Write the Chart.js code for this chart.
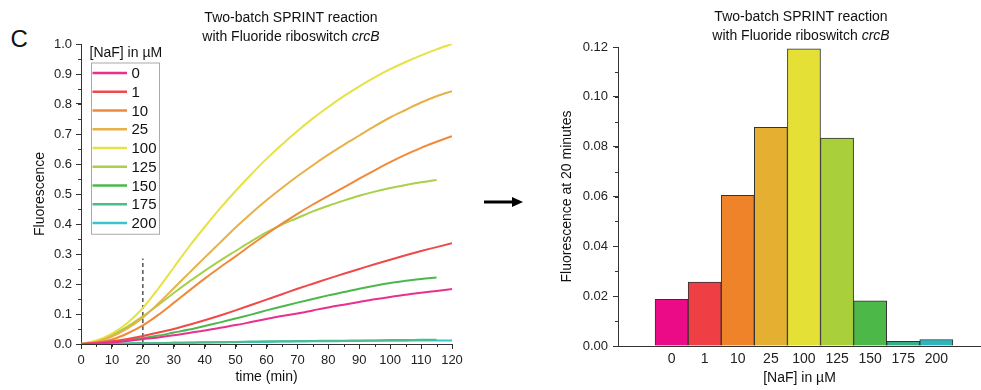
<!DOCTYPE html>
<html>
<head>
<meta charset="utf-8">
<script src="https://cdn.jsdelivr.net/npm/chart.js@4"></script>
<style>
  body { margin: 0; background: #fff; overflow: hidden; }
  #wrap { position: relative; width: 981px; height: 390px; font-family: 'Liberation Sans', Arial, sans-serif; color: #111; }
  canvas { position: absolute; top: 0; }
  .title { position: absolute; width: 320px; text-align: center; font-size: 14px; line-height: 19px; }
  #panel { position: absolute; left: 10.5px; top: 27px; font-size: 24px; line-height: 24px; }
</style>
</head>
<body>
<div id="wrap">
  <div id="panel">C</div>
  <canvas id="curves" width="470" height="390" style="left:0"></canvas>
  <canvas id="bars" width="426" height="390" style="left:555px"></canvas>
  <div class="title" style="left:131px; top:7.5px">Two-batch SPRINT reaction<br>with Fluoride riboswitch <i>crcB</i></div>
  <div class="title" style="left:641px; top:7px">Two-batch SPRINT reaction<br>with Fluoride riboswitch <i>crcB</i></div>
  <svg style="position:absolute; left:480px; top:195px" width="46" height="15">
    <line x1="4" y1="7" x2="34" y2="7" stroke="#000" stroke-width="3"/>
    <polygon points="32,2 43,7 32,12" fill="#000"/>
  </svg>
</div>
<script>
// kinetics, sampled every 5 min
const times = [0, 5, 10, 15, 20, 25, 30, 35, 40, 45, 50, 55, 60, 65, 70, 75, 80, 85, 90, 95, 100, 105, 110, 115, 120];
const naf0   = [0, .002, .005, .01, .016, .022, .029, .037, .045, .054, .063, .073, .083, .093, .102, .112, .122, .131, .14, .149, .157, .164, .171, .177, .183];
const naf1   = [0, .003, .009, .017, .027, .038, .05, .064, .079, .095, .112, .13, .148, .166, .184, .201, .218, .234, .25, .266, .281, .296, .31, .323, .336];
const naf10  = [0, .005, .015, .035, .062, .097, .137, .178, .218, .256, .292, .33, .366, .401, .434, .465, .494, .522, .551, .579, .606, .631, .654, .674, .693];
const naf25  = [0, .008, .025, .052, .088, .135, .186, .237, .288, .338, .388, .435, .479, .52, .559, .596, .631, .664, .695, .726, .755, .78, .805, .826, .843];
const naf100 = [0, .012, .035, .07, .12, .185, .255, .325, .39, .452, .51, .565, .617, .665, .71, .752, .79, .826, .859, .889, .916, .94, .962, .982, 1.0];
const naf125 = [0, .01, .03, .058, .092, .13, .17, .208, .244, .278, .31, .342, .372, .398, .42, .442, .461, .478, .494, .508, .52, .53, .539, .547];
const naf150 = [0, .002, .006, .012, .02, .028, .038, .048, .06, .072, .085, .098, .112, .125, .138, .15, .162, .173, .184, .194, .203, .211, .217, .222];
const naf175 = [0, .001, .001, .002, .003, .003, .004, .005, .006, .006, .007, .008, .009, .009, .01, .01, .011, .011, .012, .012, .013, .013, .014, .014];
const naf200 = [0, .001, .001, .002, .002, .003, .004, .004, .005, .006, .006, .007, .007, .008, .008, .009, .009, .01, .01, .011, .011, .011, .012, .012, .012];

const categories = ['0', '1', '10', '25', '100', '125', '150', '175', '200'];
const seriesValues = [naf0, naf1, naf10, naf25, naf100, naf125, naf150, naf175, naf200];
const lineColors = ['#e8308e', '#ee4a4a', '#f08a3a', '#e8b046', '#e6e244', '#a8d048', '#4cb84c', '#4cbc8c', '#3cc4cc'];

// fluorescence at 20 minutes
const barValues = [0.0187, 0.0257, 0.0605, 0.0878, 0.1193, 0.0834, 0.0181, 0.0019, 0.0026];
const barColors = ['#ec0b86', '#ef3f44', '#ef8329', '#e5b031', '#e4e036', '#a9cf3b', '#4cb848', '#38ae86', '#2bb5bd'];

const markerTime = 20;
const markerTop = 0.285;

const FONT = "'Liberation Sans', Arial, sans-serif";

// small unlabeled ticks between the major ones
const minorTicks = {
    id: 'minorTicks',
    afterDraw(chart, args, opts) {
        const ctx = chart.ctx;
        ctx.save();
        ctx.strokeStyle = '#333';
        ctx.lineWidth = 1;
        for (const [id, step] of Object.entries(opts.steps || {})) {
            const s = chart.scales[id];
            const n = Math.round((s.max - s.min) / step);
            for (let k = 0; k <= n; k++) {
                const p = Math.round(s.getPixelForValue(s.min + k * step)) + 0.5;
                ctx.beginPath();
                if (s.isHorizontal()) {
                    ctx.moveTo(p, s.top);
                    ctx.lineTo(p, s.top + 3);
                } else {
                    ctx.moveTo(s.right, p);
                    ctx.lineTo(s.right - 3, p);
                }
                ctx.stroke();
            }
        }
        ctx.restore();
    }
};

// legend in a box with the title sitting above it
const boxedLegend = {
    id: 'boxedLegend',
    afterDatasetsDraw(chart, args, opts) {
        if (!opts.title) return;
        const { ctx, chartArea } = chart;
        const items = chart.data.datasets.filter(d => d.label);
        const x0 = chartArea.left + 10, y0 = chartArea.top + 18.5;
        const rowH = 18.75;
        const w = 68, h = items.length * rowH + 2.5;
        ctx.save();
        ctx.fillStyle = '#fff';
        ctx.fillRect(x0, y0, w, h);
        ctx.strokeStyle = '#aaa';
        ctx.lineWidth = 1;
        ctx.strokeRect(x0 + 0.5, y0 + 0.5, w, h);
        ctx.fillStyle = '#111';
        ctx.textBaseline = 'middle';
        ctx.font = '14px ' + FONT;
        ctx.fillText(opts.title, x0 - 1.5, y0 - 9);
        ctx.font = '15px ' + FONT;
        items.forEach((d, i) => {
            const cy = y0 + 1.2 + rowH * (i + 0.5);
            ctx.strokeStyle = d.borderColor;
            ctx.lineWidth = 2.5;
            ctx.beginPath();
            ctx.moveTo(x0 + 1.5, cy);
            ctx.lineTo(x0 + 36, cy);
            ctx.stroke();
            ctx.fillText(d.label, x0 + 40.5, cy + 1);
        });
        ctx.restore();
    }
};

const lineSets = categories.map((c, i) => ({
    label: c,
    data: seriesValues[i].map((v, j) => ({ x: times[j], y: v })),
    borderColor: lineColors[i],
    borderWidth: 2,
    pointRadius: 0,
    cubicInterpolationMode: 'monotone'
}));
lineSets.push({
    data: [{ x: markerTime, y: 0 }, { x: markerTime, y: markerTop }],
    borderColor: '#555',
    borderWidth: 1.5,
    borderDash: [4, 3],
    pointRadius: 0
});

const axisGrid = { drawOnChartArea: false, drawTicks: true, tickLength: 5, color: '#333' };
const axisBorder = { display: true, color: '#333', width: 1 };

new Chart(document.getElementById('curves'), {
    type: 'line',
    data: { datasets: lineSets },
    options: {
        responsive: false,
        animation: false,
        devicePixelRatio: 1,
        layout: { padding: { top: 44, right: 18, bottom: 0, left: 0 } },
        plugins: {
            legend: { display: false },
            title: { display: false },
            tooltip: { enabled: false },
            minorTicks: { steps: { x: 5, y: 0.05 } },
            boxedLegend: { title: '[NaF] in µM' }
        },
        scales: {
            x: {
                type: 'linear', min: 0, max: 120,
                grid: axisGrid, border: axisBorder,
                ticks: { stepSize: 10, autoSkip: false, maxRotation: 0, padding: 4, color: '#222', font: { family: FONT, size: 13 } },
                title: { display: true, text: 'time (min)', color: '#111', font: { family: FONT, size: 14 }, padding: { top: 0, bottom: 4.6 } },
                afterFit: s => { s.height = 46; }
            },
            y: {
                min: 0, max: 1,
                grid: axisGrid, border: axisBorder,
                ticks: { stepSize: 0.1, padding: 4, color: '#222', font: { family: FONT, size: 13 }, callback: v => v.toFixed(1) },
                title: { display: true, text: 'Fluorescence', color: '#111', font: { family: FONT, size: 14 }, padding: { top: 31.6, bottom: 0 } },
                afterFit: s => { s.width = 81; }
            }
        }
    },
    plugins: [minorTicks, boxedLegend]
});

new Chart(document.getElementById('bars'), {
    type: 'bar',
    data: {
        datasets: [{
            data: categories.map((c, i) => ({ x: i, y: barValues[i] })),
            backgroundColor: barColors,
            borderColor: '#333',
            borderWidth: 1,
            barPercentage: 1,
            categoryPercentage: 1
        }]
    },
    options: {
        responsive: false,
        animation: false,
        devicePixelRatio: 1,
        layout: { padding: { top: 47, right: 0, bottom: 0, left: 0 } },
        plugins: {
            legend: { display: false },
            title: { display: false },
            tooltip: { enabled: false },
            minorTicks: { steps: { y: 0.01 } }
        },
        scales: {
            x: {
                type: 'linear', min: -1.62, max: 9.35, offset: false,
                grid: { display: false, drawTicks: false, offset: false },
                border: axisBorder,
                afterBuildTicks: s => { s.ticks = categories.map((c, i) => ({ value: i })); },
                ticks: { autoSkip: false, maxRotation: 0, padding: 5, color: '#222', font: { family: FONT, size: 14 }, callback: v => categories[v] },
                title: { display: true, text: '[NaF] in µM', color: '#111', font: { family: FONT, size: 14 }, padding: { top: 0, bottom: 3.1 } },
                afterFit: s => { s.height = 44; }
            },
            y: {
                min: 0, max: 0.12,
                grid: axisGrid, border: axisBorder,
                ticks: { stepSize: 0.02, padding: 5, color: '#222', font: { family: FONT, size: 13 }, callback: v => v.toFixed(2) },
                title: { display: true, text: 'Fluorescence at 20 minutes', color: '#111', font: { family: FONT, size: 14 }, padding: { top: 3.6, bottom: 0 } },
                afterFit: s => { s.width = 63; }
            }
        }
    },
    plugins: [minorTicks]
});
</script>
</body>
</html>
